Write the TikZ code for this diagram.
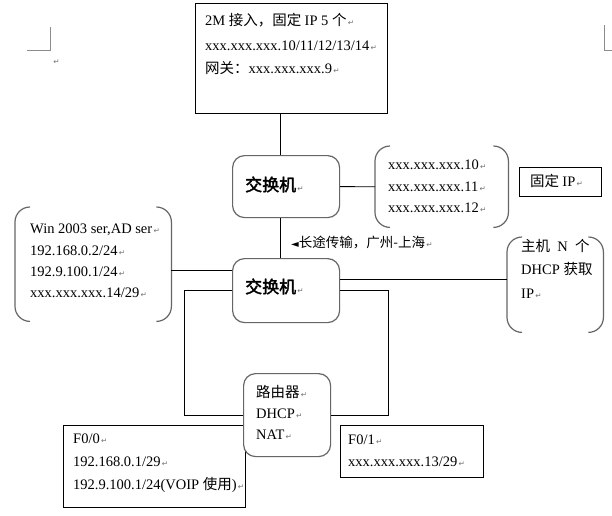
\documentclass[tikz,border=0pt]{standalone}
\usepackage{fontspec}
\setmainfont{Liberation Serif}
\newfontfamily\cjk{Noto Sans CJK SC}
\newfontfamily\cjkb[FakeBold=2]{Noto Sans CJK SC}
\newfontfamily\sym{DejaVu Sans}
\newcommand\pmk{{\sym\fontsize{7.5}{7.5}\selectfont\color{black!55}\,↵}}
\tikzset{
  txt/.style={anchor=base west, inner sep=0, font=\fontsize{14.5}{16}\selectfont},
  bigtxt/.style={anchor=base west, inner sep=0, font=\cjkb\fontsize{17}{17}\selectfont},
  sqbox/.style={draw, line width=0.8pt, anchor=north west, inner sep=0, fill=white},
  rbox/.style={draw=black!60, line width=1.2pt, rounded corners=12pt, fill=white, anchor=north west, inner sep=0},
  bbox/.style={anchor=north west, inner sep=0},
  brk/.style={draw=black!60, line width=1.2pt, rounded corners=15pt},
  conn/.style={line width=0.8pt},
  cropmk/.style={draw=black!45, line width=0.8pt}
}
\begin{document}
\begin{tikzpicture}[x=1pt,y=-1pt]
\fill[white] (0,0) rectangle (612,515);
\useasboundingbox (0,0) rectangle (612,515);

% crop marks
\draw[cropmk] (27,50) -- (50,50) -- (50,27);
\draw[cropmk] (604,25) -- (604,50) -- (612,50);
\node[inner sep=0] (pm0) at (56,62) {\pmk};

\coordinate (spine) at (280,0);

% top box
\node[sqbox, minimum width=192pt, minimum height=110pt] (top) at (195,3) {};
\node[txt] (t1) at (205,25) {2M {\cjk 接入，固定 }IP 5 {\cjk 个}\pmk};
\node[txt] (t2) at (205,50) {xxx.xxx.xxx.10/11/12/13/14\pmk};
\node[txt] (t3) at (205,73) {{\cjk 网关：}xxx.xxx.xxx.9\pmk};

% switch 1
\node[rbox, minimum width=107pt, minimum height=62pt] (sw1) at (232,155) {};
\node[bigtxt] (sw1t) at (245,191) {交换机\pmk};

% bracket box 1
\node[bbox, minimum width=133pt, minimum height=81pt] (br1) at (375,146) {};
\draw[brk] ([xshift=15pt]br1.north west) -- (br1.north west) -- (br1.south west) -- ([xshift=15pt]br1.south west);
\draw[brk] ([xshift=-15pt]br1.north east) -- (br1.north east) -- (br1.south east) -- ([xshift=-15pt]br1.south east);
\node[txt] (b11) at (388,169) {xxx.xxx.xxx.10\pmk};
\node[txt] (b12) at (388,191) {xxx.xxx.xxx.11\pmk};
\node[txt] (b13) at (388,212) {xxx.xxx.xxx.12\pmk};

% fixed IP box
\node[sqbox, minimum width=82pt, minimum height=29pt] (fix) at (519,167) {};
\node[txt] (fixt) at (530,186) {{\cjk 固定 }IP\pmk};

% switch 2
\node[rbox, minimum width=107pt, minimum height=64pt] (sw2) at (232,258) {};
\node[bigtxt] (sw2t) at (245,293) {交换机\pmk};

% left bracket box
\node[bbox, minimum width=156pt, minimum height=114pt] (br2) at (15,207) {};
\draw[brk] ([xshift=15pt]br2.north west) -- (br2.north west) -- (br2.south west) -- ([xshift=15pt]br2.south west);
\draw[brk] ([xshift=-15pt]br2.north east) -- (br2.north east) -- (br2.south east) -- ([xshift=-15pt]br2.south east);
\node[txt] (b21) at (30,233) {Win 2003 ser,AD ser\pmk};
\node[txt] (b22) at (30,255) {192.168.0.2/24\pmk};
\node[txt] (b23) at (30,276) {192.9.100.1/24\pmk};
\node[txt] (b24) at (30,297) {xxx.xxx.xxx.14/29\pmk};

% right bracket box
\node[bbox, minimum width=96pt, minimum height=95pt] (br3) at (507,237) {};
\draw[brk] ([xshift=15pt]br3.north west) -- (br3.north west) -- (br3.south west) -- ([xshift=15pt]br3.south west);
\draw[brk] ([xshift=-15pt]br3.north east) -- (br3.north east) -- (br3.south east) -- ([xshift=-15pt]br3.south east);
\node[txt] (b31) at (521,251) {{\cjk 主机}\ \ N\ \ {\cjk 个}};
\node[txt] (b32) at (521,274) {DHCP {\cjk 获取}};
\node[txt] (b33) at (521,298) {IP\pmk};

% bottom boxes
\node[sqbox, minimum width=182pt, minimum height=82pt] (f00) at (63,425) {};
\node[txt] (f001) at (73,443) {F0/0\pmk};
\node[txt] (f002) at (73,466) {192.168.0.1/29\pmk};
\node[txt] (f003) at (73,489) {192.9.100.1/24(VOIP {\cjk 使用})\pmk};

\node[sqbox, minimum width=143pt, minimum height=52pt] (f01) at (340,425) {};
\node[txt] (f011) at (348,444) {F0/1\pmk};
\node[txt] (f012) at (348,466) {xxx.xxx.xxx.13/29\pmk};

% router
\node[rbox, minimum width=87pt, minimum height=83pt] (rt) at (243,373) {};
\node[txt] (rt1) at (256,397) {{\cjk 路由器}\pmk};
\node[txt] (rt2) at (256,418) {DHCP\pmk};
\node[txt] (rt3) at (256,439) {NAT\pmk};

% connectors
\draw[conn] (top.south -| spine) -- (sw1.north -| spine);
\draw[conn] (sw1.east) -- (br1.west);
\draw[conn] (sw1.south -| spine) -- (sw2.north -| spine);
\draw[conn] ([yshift=20pt]sw2.west) -- ([yshift=20pt]sw2.west -| br2.east);
\draw[conn] ([yshift=11pt]sw2.east) -- ([yshift=11pt]sw2.east -| br3.west);
\draw[conn] (sw2.west) -- ++(-48,0) |- (rt.west);
\draw[conn] (sw2.east) -- ++(48,0) |- (rt.east);

% long-distance label
\node[anchor=west, inner sep=0, font=\cjk\fontsize{13.5}{14}\selectfont] (lbl) at (291,242) {{\sym\fontsize{10}{10}\selectfont ◄}长途传输，广州-上海\pmk};
\end{tikzpicture}
\end{document}
